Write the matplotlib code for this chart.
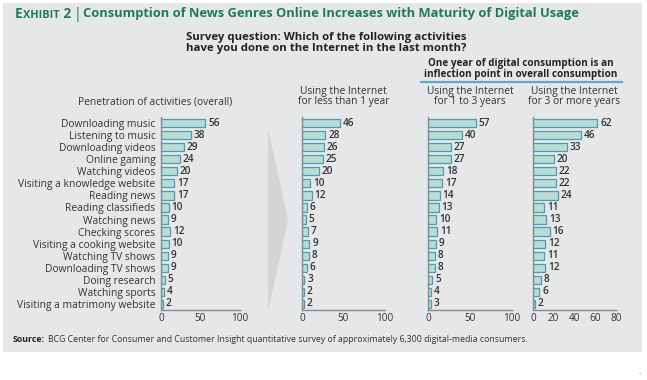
import matplotlib
matplotlib.use("Agg")
import matplotlib.pyplot as plt
from matplotlib.patches import Rectangle, Polygon

plt.rcParams['font.family'] = ['Open Sans', 'DejaVu Sans']

# activities, top to bottom
activities = ['Downloading music', 'Listening to music', 'Downloading videos',
              'Online gaming', 'Watching videos', 'Visiting a knowledge website',
              'Reading news', 'Reading classifieds', 'Watching news',
              'Checking scores', 'Visiting a cooking website', 'Watching TV shows',
              'Downloading TV shows', 'Doing research', 'Watching sports',
              'Visiting a matrimony website']
overall = [56, 38, 29, 24, 20, 17, 17, 10, 9, 12, 10, 9, 9, 5, 4, 2]
less_1yr = [46, 28, 26, 25, 20, 10, 12, 6, 5, 7, 9, 8, 6, 3, 2, 2]
yrs_1_3 = [57, 40, 27, 27, 18, 17, 14, 13, 10, 11, 9, 8, 8, 5, 4, 3]
yrs_3_plus = [62, 46, 33, 20, 22, 22, 24, 11, 13, 16, 12, 11, 12, 8, 6, 2]

panel_vals = [overall, less_1yr, yrs_1_3, yrs_3_plus]
panel_xlim = [100, 100, 100, 80]
panel_ticks = [[0, 50, 100], [0, 50, 100], [0, 50, 100], [0, 20, 40, 60, 80]]
panel_heads = ['Penetration of activities (overall)',
               'Using the Internet\nfor less than 1 year',
               'Using the Internet\nfor 1 to 3 years',
               'Using the Internet\nfor 3 or more years']

W, H = 647, 380
bg = '#e6e7e9'
green = '#1f7a5c'
txt = '#333333'
fill = '#b9dcd3'
edge = '#4d9bb5'
fs = 7.2

fig = plt.figure(figsize=(W / 100, H / 100), dpi=100)
fig.patch.set_facecolor('white')

# grey panel behind everything
fig.add_artist(Rectangle((3 / W, 1 - 352 / H), 639 / W, 349 / H,
                         transform=fig.transFigure, facecolor=bg,
                         edgecolor='none', zorder=-10))

# chevron between overall and split panels
fig.add_artist(Polygon([(268 / W, 1 - 128 / H), (288 / W, 1 - 220 / H),
                        (268 / W, 1 - 312 / H)], closed=True,
                       transform=fig.transFigure, facecolor='#d3d4d6',
                       edgecolor='none', zorder=-5))

# axes placement in pixels: left, right
px = [(161, 240), (302, 385), (428, 512), (533, 616)]
y_top, y_bot = 117, 310

for (x0, x1), vals, xl, ticks, head in zip(px, panel_vals, panel_xlim,
                                           panel_ticks, panel_heads):
    ax = fig.add_axes([x0 / W, 1 - y_bot / H, (x1 - x0) / W, (y_bot - y_top) / H])
    ax.set_facecolor('none')
    pos = list(range(len(activities)))
    bars = ax.barh(pos, vals, height=0.68, color=fill, edgecolor=edge, linewidth=0.9)
    ax.bar_label(bars, labels=[str(v) for v in vals], padding=2,
                 fontsize=fs, color=txt, fontweight='semibold')
    ax.set_ylim(len(activities) - 0.5, -0.5)
    ax.set_xlim(0, xl)
    ax.set_xticks(ticks)
    ax.tick_params(axis='x', length=0, labelsize=fs, labelcolor=txt, pad=2)
    if x0 == 161:
        ax.set_yticks(pos)
        ax.set_yticklabels(activities, fontsize=7.4, color=txt)
        ax.tick_params(axis='y', length=0, pad=4)
    else:
        ax.set_yticks([])
    for s in ('top', 'right'):
        ax.spines[s].set_visible(False)
    for s in ('left', 'bottom'):
        ax.spines[s].set_color('#8a8a8a')
        ax.spines[s].set_linewidth(1.0)
    cx = (x0 + x1) / 2 if x0 != 161 else 155
    fig.text(cx / W, 1 - 107 / H, head, ha='center', va='bottom',
             fontsize=7.4, color=txt, linespacing=0.9)

# title with small caps "EXHIBIT", then bar, then headline
renderer = fig.canvas.get_renderer()
x = 15
for part, size, gap in [('E', 9.8, 0), ('XHIBIT', 7.8, 1), (' 2', 9.8, 2)]:
    t = fig.text(x / W, 1 - 17.5 / H, part, ha='left', va='baseline',
                 fontsize=size, fontweight='bold', color=green)
    x += t.get_window_extent(renderer).width + gap
t = fig.text(x / W, 1 - 14 / H, '|', ha='left', va='center',
             fontsize=10, color=green)
x += t.get_window_extent(renderer).width + 2
fig.text(x / W, 1 - 17.5 / H,
         'Consumption of News Genres Online Increases with Maturity of Digital Usage',
         ha='left', va='baseline', fontsize=9.3, fontweight='bold', color=green)

fig.text(326 / W, 1 - 43 / H,
         'Survey question: Which of the following activities\nhave you done on the Internet in the last month?',
         ha='center', va='center', fontsize=8.2, fontweight='bold', color='#222222',
         linespacing=0.9)

fig.text(521 / W, 1 - 69 / H,
         'One year of digital consumption is an\ninflection point in overall consumption',
         ha='center', va='center', fontsize=7.1, fontweight='bold', color='#222222',
         linespacing=0.88)
fig.add_artist(plt.Line2D([421 / W, 622 / W], [1 - 82 / H, 1 - 82 / H],
                          transform=fig.transFigure, color='#6aa3c8', linewidth=1.6))

t = fig.text(13 / W, 1 - 340 / H, 'Source:', ha='left', va='center',
             fontsize=6.3, fontweight='bold', color='#222222')
sx = 13 + t.get_window_extent(renderer).width + 3
fig.text(sx / W, 1 - 340 / H,
         'BCG Center for Consumer and Customer Insight quantitative survey of approximately 6,300 digital-media consumers.',
         ha='left', va='center', fontsize=6.3, color='#333333')

fig.text(640 / W, 1 - 372 / H, '.', ha='center', va='center', fontsize=6, color='#3050a0')

fig.savefig('out.png', dpi=100)
